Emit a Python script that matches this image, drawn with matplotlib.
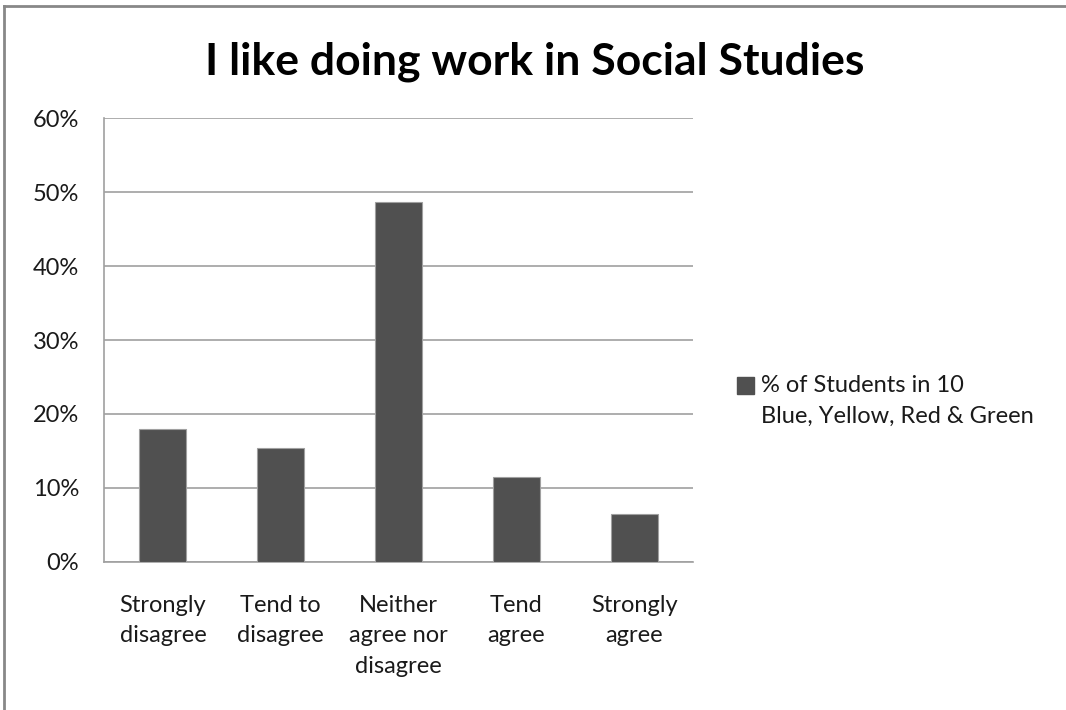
import matplotlib.pyplot as plt
from matplotlib.lines import Line2D
from matplotlib.ticker import PercentFormatter

plt.rcParams['font.family'] = ['Lato', 'DejaVu Sans']

# survey answers, share of students (78 replies)
categories = ['Strongly\ndisagree', 'Tend to\ndisagree', 'Neither\nagree nor\ndisagree',
              'Tend\nagree', 'Strongly\nagree']
shares = [17.9, 15.4, 48.7, 11.5, 6.4]
series_name = '% of Students in 10\nBlue, Yellow, Red & Green'
title = 'I like doing work in Social Studies'

fig = plt.figure(figsize=(10.66, 7.1), dpi=100)
ax = fig.add_axes([104 / 1066, 1 - 561.7 / 710, 589 / 1066, 443.4 / 710])

x = range(len(categories))
ax.bar(x, shares, width=0.4, color='#505050', edgecolor='#a0a0a0', linewidth=0.8,
       label=series_name, zorder=3)

ax.set_xlim(-0.5, len(categories) - 0.5)
ax.set_ylim(0, 60)
ax.set_yticks(range(0, 61, 10))
ax.yaxis.set_major_formatter(PercentFormatter(decimals=0))
ax.grid(axis='y', color='#a0a0a0', linewidth=1.2, zorder=0)
ax.set_xticks(list(x))
ax.set_xticklabels(categories, fontsize=17, linespacing=1.55, va='top')
ax.tick_params(axis='both', length=0, labelsize=17, colors='#1a1a1a')
ax.tick_params(axis='y', pad=18)
ax.tick_params(axis='x', pad=24)

for side in ['top', 'right']:
    ax.spines[side].set_visible(False)
for side in ['left', 'bottom']:
    ax.spines[side].set_color('#a0a0a0')
    ax.spines[side].set_linewidth(1.2)

fig.text(535 / 1066, 1 - 62 / 710, title, fontsize=32, fontweight='bold',
         ha='center', va='center')

leg = fig.legend(handles=[plt.Rectangle((0, 0), 1, 1, color='#505050')],
                 labels=[series_name], loc='upper left',
                 bbox_to_anchor=(737 / 1066, 1 - 375 / 710), frameon=False,
                 fontsize=17, handlelength=0.7, handleheight=0.7,
                 handletextpad=0.3, borderpad=0, borderaxespad=0)
for t in leg.get_texts():
    t.set_linespacing(1.55)
    t.set_color('#1a1a1a')
# square sits next to the first line of the label
box = leg.legend_handles[0]
box.set_y(box.get_y() + 11)

# outer chart border, only top and left edges show
fig.add_artist(Line2D([4 / 1066, 4 / 1066], [0, 1 - 6 / 710], color='#888888',
                      linewidth=2, transform=fig.transFigure))
fig.add_artist(Line2D([4 / 1066, 1], [1 - 6 / 710, 1 - 6 / 710], color='#888888',
                      linewidth=2, transform=fig.transFigure))

fig.savefig('out.png', dpi=100)
